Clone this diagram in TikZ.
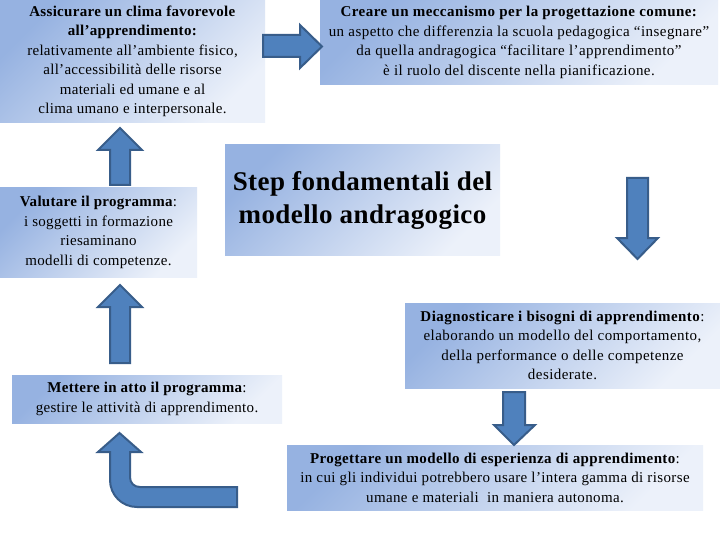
\documentclass[tikz,border=0pt]{standalone}
\usepackage{fontspec}
\setmainfont{Liberation Serif}[LetterSpace=2]
\newfontfamily\titlefont{Liberation Serif}[LetterSpace=1.5]
\definecolor{boxdark}{RGB}{150,178,225}
\definecolor{boxlight}{RGB}{236,241,250}
\definecolor{arrowfill}{RGB}{79,129,189}
\definecolor{arrowedge}{RGB}{56,93,138}
\newcommand\bodysize{\fontsize{15}{19.5}\selectfont}
\tikzset{
  box/.style={top color=boxdark, bottom color=boxlight, shading angle=45,
    draw=none, inner sep=0pt, align=center, font=\bodysize},
  blockarrow/.style={fill=arrowfill, draw=arrowedge, line width=2pt, line join=miter},
}
\begin{document}
\begin{tikzpicture}[x=1pt,y=-1pt]
\useasboundingbox (0,0) rectangle (720,540);
\fill[white] (0,0) rectangle (720,540);
% boxes
\node[box, minimum width=265pt, minimum height=123pt] (clima) at (132.5,61.5)
  {\textbf{Assicurare un clima favorevole}\\\textbf{all’apprendimento:}\\relativamente all’ambiente fisico,\\all’accessibilità delle risorse\\materiali ed umane e al\\clima umano e interpersonale.};
\node[box, minimum width=398pt, minimum height=85pt, font={\bodysize\addfontfeatures{LetterSpace=3}}] (creare) at (519,42.5)
  {\textbf{Creare un meccanismo per la progettazione comune:}\\un aspetto che differenzia la scuola pedagogica “insegnare”\\da quella andragogica “facilitare l’apprendimento”\\è il ruolo del discente nella pianificazione.};
\node[box, minimum width=197pt, minimum height=89pt] (valutare) at (98.5,232.5)
  {\textbf{Valutare il programma}:\\i soggetti in formazione\\riesaminano\\modelli di competenze.};
\node[box, minimum width=275pt, minimum height=110pt, font={\titlefont\bfseries\fontsize{27}{33}\selectfont}] (titolo) at (362.5,200)
  {Step fondamentali del\\modello andragogico};
\node[box, minimum width=315pt, minimum height=85pt, font={\bodysize\addfontfeatures{LetterSpace=3}}] (diagnosi) at (562.5,345.5)
  {\textbf{Diagnosticare i bisogni di apprendimento}:\\elaborando un modello del comportamento,\\della performance o delle competenze\\desiderate.};
\node[box, minimum width=270pt, minimum height=48pt] (mettere) at (147,399)
  {\textbf{Mettere in atto il programma}:\\gestire le attività di apprendimento.};
\node[box, minimum width=416pt, minimum height=65pt, font={\bodysize\addfontfeatures{LetterSpace=2.5}}] (progettare) at (495,477.5)
  {\textbf{Progettare un modello di esperienza di apprendimento}:\\in cui gli individui potrebbero usare l’intera gamma di risorse\\umane e materiali\ \ in maniera autonoma.};
% block arrows
\draw[blockarrow] (263,35) -- (300,35) -- (300,25) -- (322,46.5) -- (300,68) -- (300,57) -- (263,57) -- cycle;
\draw[blockarrow] (110,185) -- (110,150) -- (98,150) -- (120,128) -- (142,150) -- (130,150) -- (130,185) -- cycle;
\draw[blockarrow] (110,363) -- (110,307) -- (98,307) -- (120,285) -- (142,307) -- (130,307) -- (130,363) -- cycle;
\draw[blockarrow] (627,178) -- (648,178) -- (648,238) -- (658,238) -- (637.5,259) -- (617,238) -- (627,238) -- cycle;
\draw[blockarrow] (503,392) -- (525,392) -- (525,425) -- (535,425) -- (514,445) -- (494,425) -- (503,425) -- cycle;
\draw[blockarrow] (119.5,433) -- (141,452) -- (130,452) -- (130,477)
  .. controls (130,483) and (134,487) .. (140,487) -- (237,487) -- (237,507) -- (137,507)
  .. controls (122,507) and (110,495) .. (110,480) -- (110,452) -- (98,452) -- cycle;
\end{tikzpicture}
\end{document}
